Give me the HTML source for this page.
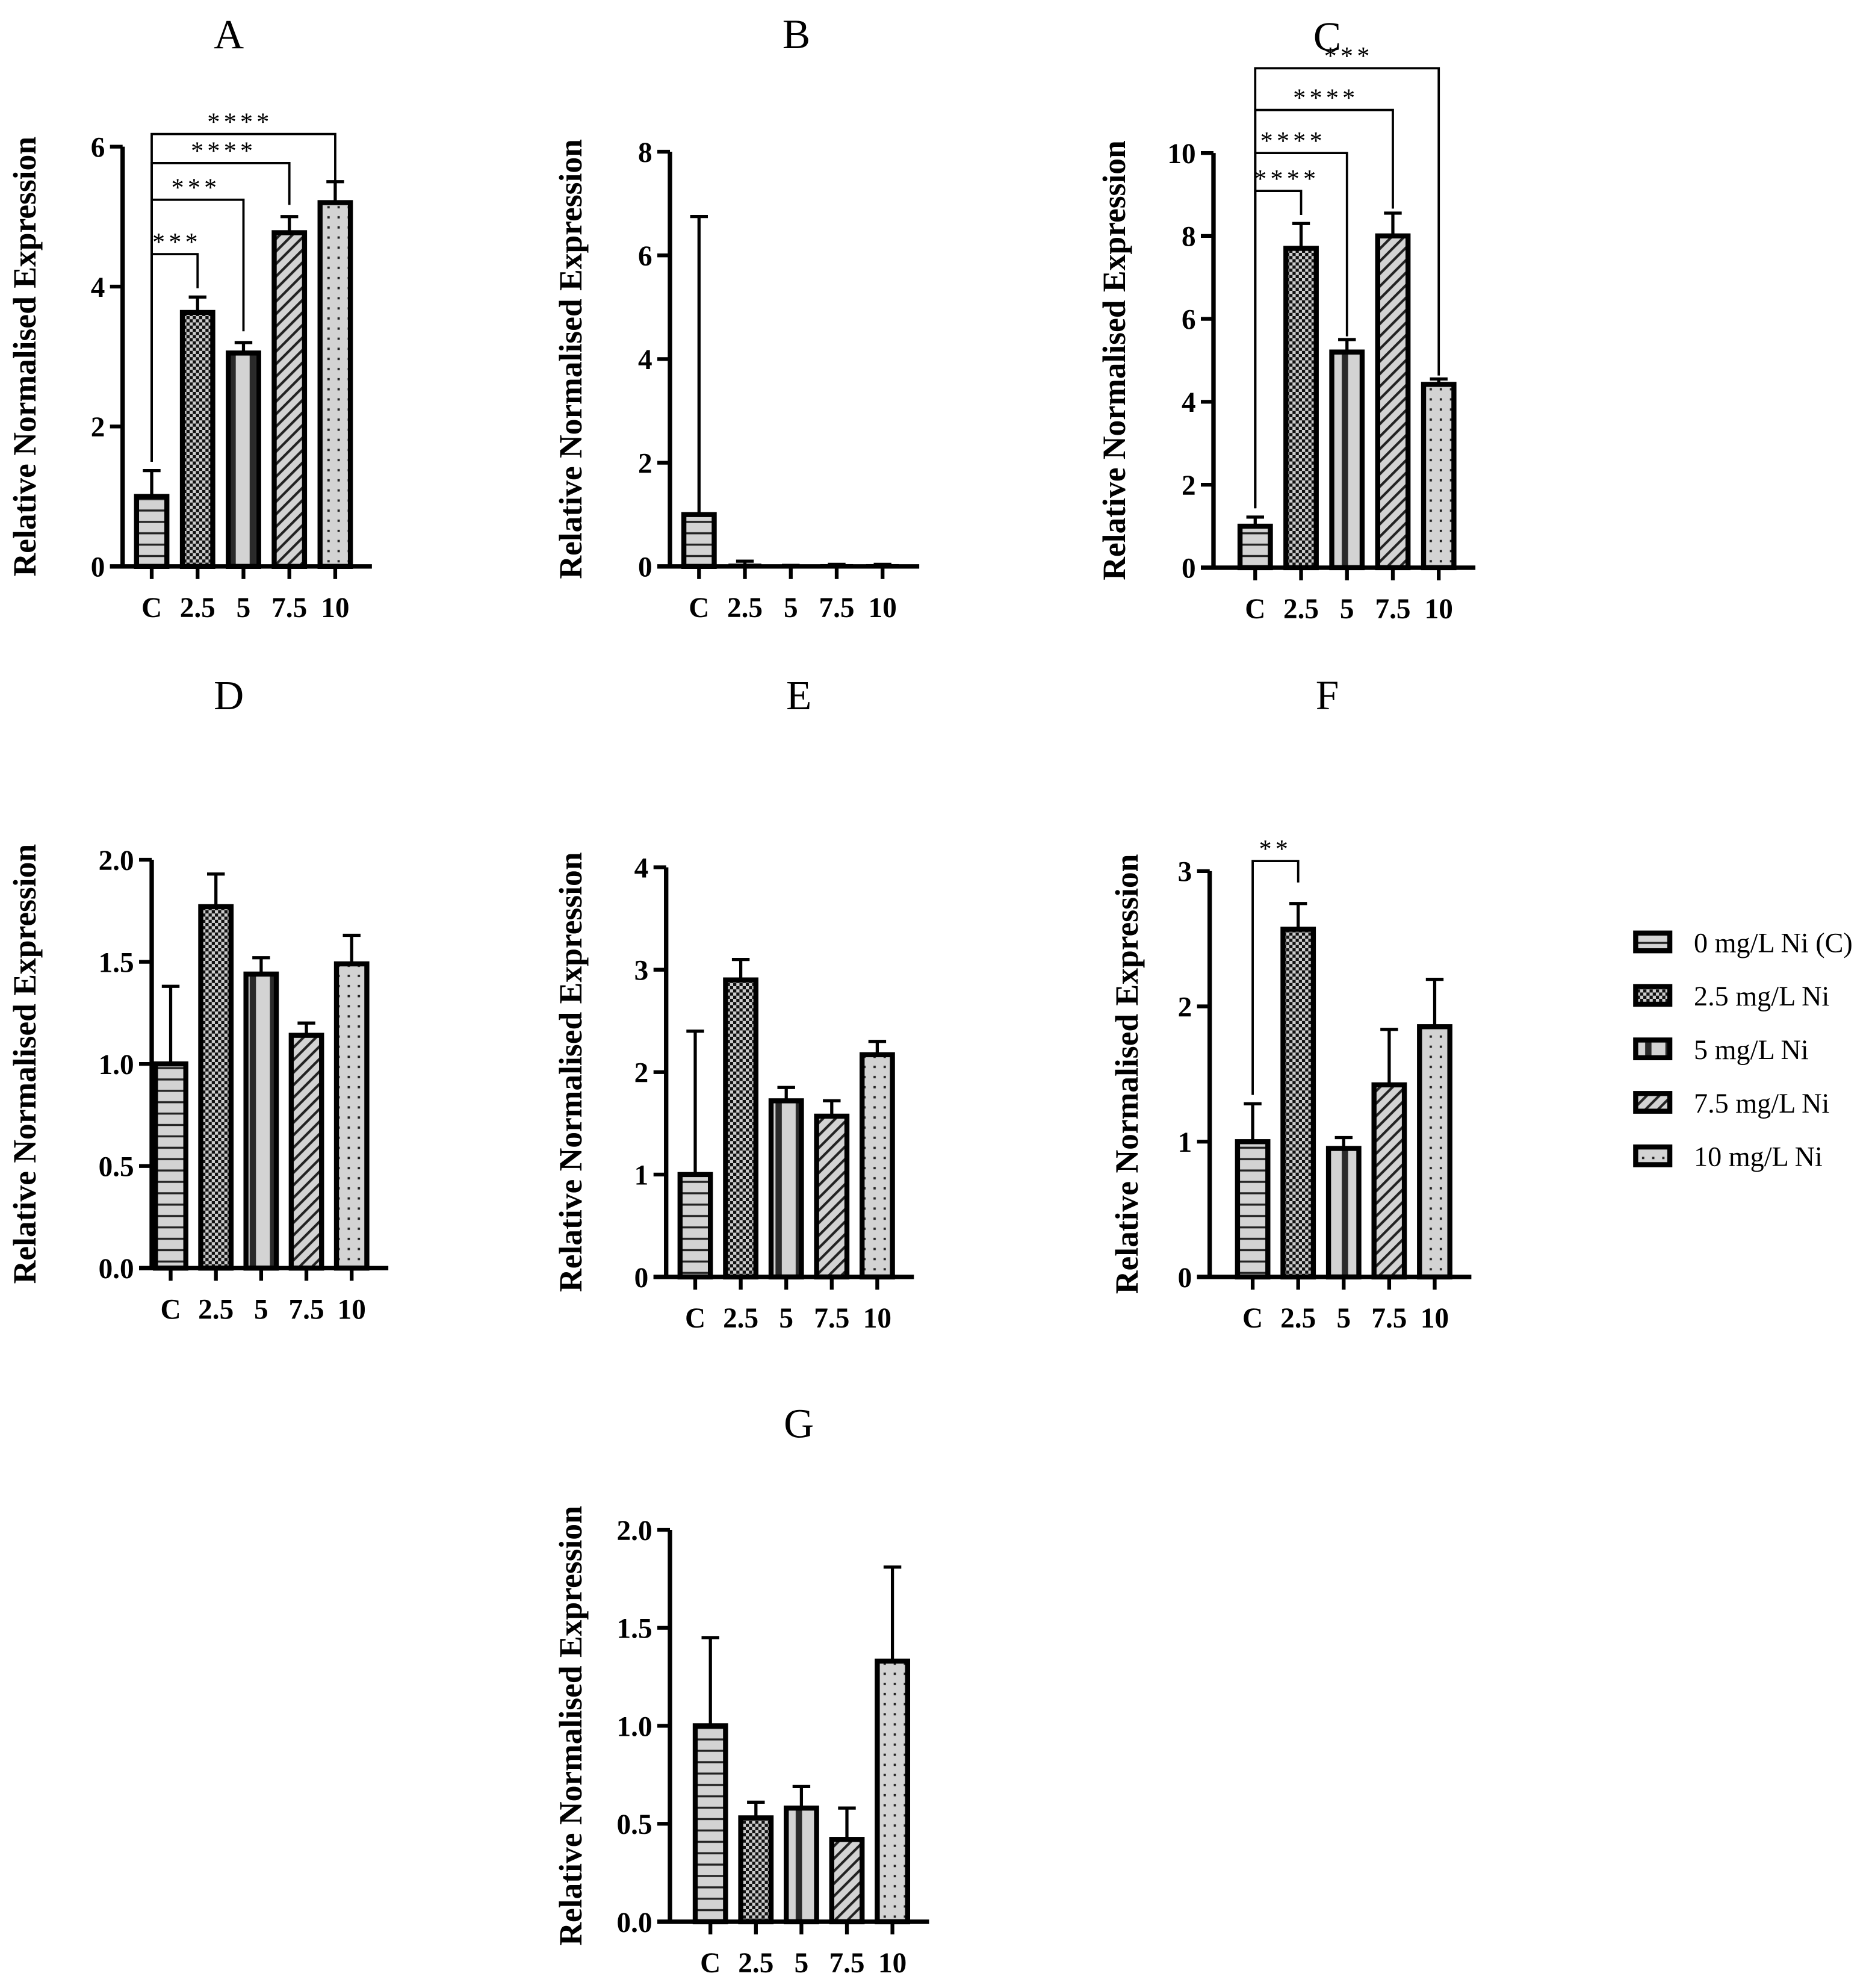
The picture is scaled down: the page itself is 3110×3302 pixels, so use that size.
<!DOCTYPE html>
<html><head><meta charset="utf-8"><style>
html,body{margin:0;padding:0;background:#fff}
svg{display:block}
text{font-family:"Liberation Serif",serif}
</style></head><body>
<svg id="fig" width="3110" height="3302" viewBox="0 0 1480.95 1572.4" xmlns="http://www.w3.org/2000/svg">
<defs>
<pattern id="p0" patternUnits="userSpaceOnUse" width="10" height="9"><rect width="10" height="9" fill="#d3d3d3"/><rect y="7" width="10" height="1.6" fill="#222"/></pattern>
<pattern id="p1" patternUnits="userSpaceOnUse" width="5" height="5"><rect width="5" height="5" fill="#111"/><rect width="2.5" height="2.5" fill="#ccc"/><rect x="2.5" y="2.5" width="2.5" height="2.5" fill="#ccc"/></pattern>
<pattern id="p2" patternUnits="userSpaceOnUse" width="16" height="10"><rect width="16" height="10" fill="#d3d3d3"/><rect x="5.5" width="5" height="10" fill="#2a2a2a"/></pattern>
<pattern id="p3" patternUnits="userSpaceOnUse" width="7" height="7" patternTransform="rotate(45)"><rect width="7" height="7" fill="#d3d3d3"/><rect width="2" height="7" fill="#222"/></pattern>
<pattern id="p4" patternUnits="userSpaceOnUse" width="8" height="8"><rect width="8" height="8" fill="#d3d3d3"/><rect x="3" y="3" width="1.8" height="1.8" fill="#222"/></pattern>
</defs>
</svg>
<script>
const cats = ["C","2.5","5","7.5","10"];
const aVals=[1.0,3.63,3.05,4.77,5.2], aErr=[1.37,3.85,3.2,5.0,5.5], aTicks=[0,2,4,6];
const bVals=[1.0,0.03,0.01,0.02,0.02], bErr=[6.75,0.1,0.02,0.04,0.04], bTicks=[0,2,4,6,8];
const cVals=[1.0,7.7,5.2,8.0,4.42], cErr=[1.22,8.3,5.5,8.55,4.55], cTicks=[0,2,4,6,8,10];
const dVals=[1.0,1.77,1.44,1.14,1.49], dErr=[1.38,1.93,1.52,1.2,1.63], dTicks=[0,0.5,1.0,1.5,2.0];
const eVals=[1.0,2.9,1.72,1.57,2.17], eErr=[2.4,3.1,1.85,1.72,2.3], eTicks=[0,1,2,3,4];
const fVals=[1.0,2.57,0.95,1.42,1.85], fErr=[1.28,2.76,1.03,1.83,2.2], fTicks=[0,1,2,3];
const gVals=[1.0,0.53,0.58,0.42,1.33], gErr=[1.45,0.61,0.69,0.58,1.81], gTicks=[0,0.5,1.0,1.5,2.0];
const legendLabels=["0 mg/L Ni (C)","2.5 mg/L Ni","5 mg/L Ni","7.5 mg/L Ni","10 mg/L Ni"];
const NS="http://www.w3.org/2000/svg", svg=document.getElementById('fig');
function el(tag,attrs,parent,txt){const e=document.createElementNS(NS,tag);for(const k in attrs)e.setAttribute(k,attrs[k]);if(txt!==undefined)e.textContent=txt;(parent||svg).appendChild(e);return e;}
function panel(o){
  const g=el('g',{});
  
  
  const max=o.ticks[o.ticks.length-1];
  const y=v=>o.y0-(o.y0-o.ytop)*v/max;
  const t=el('text',{x:o.tx,y:o.ty,'font-size':33,'text-anchor':'middle'},g,o.name);
  
  const yl=el('text',{transform:`translate(${o.lx},${(o.y0+o.ytop)/2}) rotate(-90)`,'font-size':25.5,'font-weight':'bold','text-anchor':'middle'},g,'Relative Normalised Expression');
  
  const step=o.step||36.3, bw=24;
  const cx=i=>o.x0+o.first+i*step;
  const xend=cx(4)+29;
  o.vals.forEach((v,i)=>{
    const x=cx(i);
    const eb=el('path',{d:`M${x},${y(v)}V${y(o.err[i])}M${x-7},${y(o.err[i])}H${x+7}`,stroke:'#000','stroke-width':2.5,fill:'none'},g);
    
    const h=Math.max(o.y0-y(v),0.5);
    const r=el('rect',{x:x-bw/2,y:o.y0-h,width:bw,height:h,fill:`url(#p${i})`,stroke:'#000','stroke-width':h>4?4:2},g);
    
    const tk=el('line',{x1:x,x2:x,y1:o.y0,y2:o.y0+10,stroke:'#000','stroke-width':3},g);
    
    const lb=el('text',{x:x,y:o.y0+40,'font-size':22.5,'font-weight':'bold','text-anchor':'middle'},g,cats[i]);
    
  });
  const ax=el('path',{d:`M${o.x0},${o.ytop}V${o.y0}M${o.x0-10},${o.y0}H${xend}`,stroke:'#000','stroke-width':3.5,fill:'none'},g);
  
  o.ticks.forEach(v=>{
    const tk=el('line',{x1:o.x0-10,x2:o.x0,y1:y(v),y2:y(v),stroke:'#000','stroke-width':3},g);
    
    const lb=el('text',{x:o.x0-14,y:y(v)+8,'font-size':22.5,'font-weight':'bold','text-anchor':'end'},g,o.dec?v.toFixed(1):String(v));
    
  });
  (o.brackets||[]).forEach(b=>{
    const x1=cx(0),x2=cx(b.to);
    const p=el('path',{d:`M${x1},${y(o.err[0])-7}V${b.y}H${x2}V${b.y2}`,stroke:'#000','stroke-width':1.8,fill:'none'},g);
    
    const s=el('text',{x:b.sx,y:b.y-3,'font-size':20,'text-anchor':'middle','letter-spacing':3},g,b.s);
    
  });
}
panel({name:'A',vals:aVals,err:aErr,ticks:aTicks,x0:97,y0:448,ytop:116,first:23,tx:181,ty:38,lx:28,
  brackets:[{to:1,y:201,y2:228,s:'***',sx:140},{to:2,y:158,y2:262,s:'***',sx:155},{to:3,y:129,y2:162,s:'****',sx:177},{to:4,y:106,y2:143,s:'****',sx:190}]});
panel({name:'B',vals:bVals,err:bErr,ticks:bTicks,x0:530,y0:448,ytop:120,first:23,tx:630,ty:38,lx:460});
panel({name:'C',vals:cVals,err:cErr,ticks:cTicks,x0:960,y0:449,ytop:121,first:33,tx:1050,ty:40,lx:890,
  brackets:[{to:1,y:151,y2:170,s:'****',sx:1018},{to:2,y:121,y2:266,s:'****',sx:1023},{to:3,y:87,y2:165,s:'****',sx:1049},{to:4,y:54,y2:297,s:'***',sx:1067}]});
panel({name:'D',vals:dVals,err:dErr,ticks:dTicks,dec:true,x0:120,y0:1003,ytop:680,first:15,step:35.8,tx:181,ty:561,lx:28});
panel({name:'E',vals:eVals,err:eErr,ticks:eTicks,x0:527,y0:1010,ytop:686,first:23,step:36,tx:632,ty:561,lx:460});
panel({name:'F',vals:fVals,err:fErr,ticks:fTicks,x0:957,y0:1010,ytop:689,first:34,step:36,tx:1050,ty:561,lx:900,
  brackets:[{to:1,y:681,y2:698,s:'**',sx:1009}]});
panel({name:'G',vals:gVals,err:gErr,ticks:gTicks,dec:true,x0:530,y0:1520,ytop:1210,first:32,step:36,tx:632,ty:1137,lx:460});
const lg=el('g',{});


legendLabels.forEach((s,i)=>{
  const yy=745+i*42.3;
  const r=el('rect',{x:1294,y:yy-7,width:27,height:14,fill:`url(#p${i})`,stroke:'#000','stroke-width':4},lg);
  
  const t=el('text',{x:1340,y:yy+8,'font-size':22},lg,s);
  
});
</script>
</body></html>
